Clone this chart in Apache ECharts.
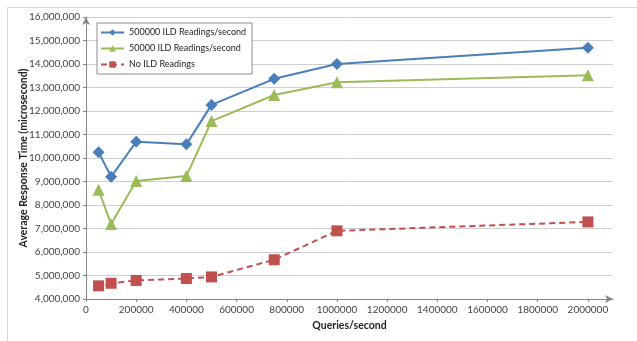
<!DOCTYPE html>
<html><head><meta charset="utf-8">
<script src="https://cdn.jsdelivr.net/npm/echarts@6/dist/echarts.min.js"></script>
<style>html,body{margin:0;padding:0;background:#fff}#c{width:637px;height:341px}</style>
</head><body><div id="c"></div>
<script>
const queries = [50000, 100000, 200000, 400000, 500000, 750000, 1000000, 2000000];
const ild500k = [10250000, 9200000, 10690000, 10580000, 12260000, 13370000, 14000000, 14690000];
const ild50k  = [8650000, 7190000, 9020000, 9230000, 11570000, 12680000, 13220000, 13520000];
const noIld   = [4560000, 4670000, 4790000, 4870000, 4940000, 5670000, 6900000, 7280000];
const xTicks = [0, 200000, 400000, 600000, 800000, 1000000, 1200000, 1400000, 1600000, 1800000, 2000000];
const seriesNames = ['500000 ILD Readings/second', '50000 ILD Readings/second', 'No ILD Readings'];

const font = 'Lato, "Open Sans", sans-serif';
const pair = (ys) => queries.map((x, i) => [x, ys[i]]);
const chart = echarts.init(document.getElementById('c'), null, {renderer: 'canvas'});
chart.setOption({
  animation: false,
  textStyle: {fontFamily: font},
  graphic: [{type: 'rect', shape: {x: 7.5, y: 7.5, width: 700, height: 400},
    style: {fill: 'none', stroke: '#d9d9d9', lineWidth: 1}, z: -10}],
  grid: {left: 86, right: 24, top: 17, bottom: 42},
  legend: {
    orient: 'vertical', left: 97, top: 23,
    backgroundColor: '#fff', borderColor: '#8c8c8c', borderWidth: 1,
    padding: [5, 6, 5, 3], itemGap: 7, itemWidth: 23, itemHeight: 8,
    textStyle: {fontFamily: font, fontSize: 9, color: '#222'},
    data: seriesNames
  },
  xAxis: {
    type: 'value', min: 0, max: 2100000, interval: 200000,
    name: 'Queries/second', nameLocation: 'middle', nameGap: 21, nameMoveOverlap: false,
    nameTextStyle: {fontFamily: font, fontSize: 10.5, fontWeight: 'bold', color: '#222'},
    axisLine: {show: true, symbol: ['none', 'arrow'], symbolSize: [6, 8], lineStyle: {color: '#868686', width: 1}},
    axisTick: {show: true, length: 3, customValues: xTicks, lineStyle: {color: '#868686'}},
    axisLabel: {customValues: xTicks, fontFamily: font, fontSize: 10, color: '#444', margin: 6,
      formatter: v => String(v)},
    splitLine: {show: false}
  },
  yAxis: {
    type: 'value', min: 4000000, max: 16000000, interval: 1000000,
    name: 'Average Response Time (microsecond)', nameLocation: 'middle', nameGap: 57, nameMoveOverlap: false,
    nameTextStyle: {fontFamily: font, fontSize: 10.5, fontWeight: 'bold', color: '#222'},
    axisLine: {show: true, symbol: ['none', 'arrow'], symbolSize: [6, 8], lineStyle: {color: '#868686', width: 1}},
    axisTick: {show: true, length: 3, lineStyle: {color: '#868686'}},
    axisLabel: {fontFamily: font, fontSize: 10, color: '#444', margin: 6,
      formatter: v => v.toLocaleString('en-US')},
    splitLine: {show: true, lineStyle: {color: '#cfcfcf', width: 1}}
  },
  series: [
    {name: seriesNames[0], type: 'line', data: pair(ild500k), symbol: 'diamond', symbolSize: 12,
     itemStyle: {color: '#4A7EBB'}, lineStyle: {color: '#4A7EBB', width: 2}},
    {name: seriesNames[1], type: 'line', data: pair(ild50k), symbol: 'triangle', symbolSize: 12,
     itemStyle: {color: '#9BBB59'}, lineStyle: {color: '#9BBB59', width: 2}},
    {name: seriesNames[2], type: 'line', data: pair(noIld), symbol: 'rect', symbolSize: 11,
     itemStyle: {color: '#C0504D'}, lineStyle: {color: '#C0504D', width: 2, type: [6, 4]}}
  ]
});
</script></body></html>
